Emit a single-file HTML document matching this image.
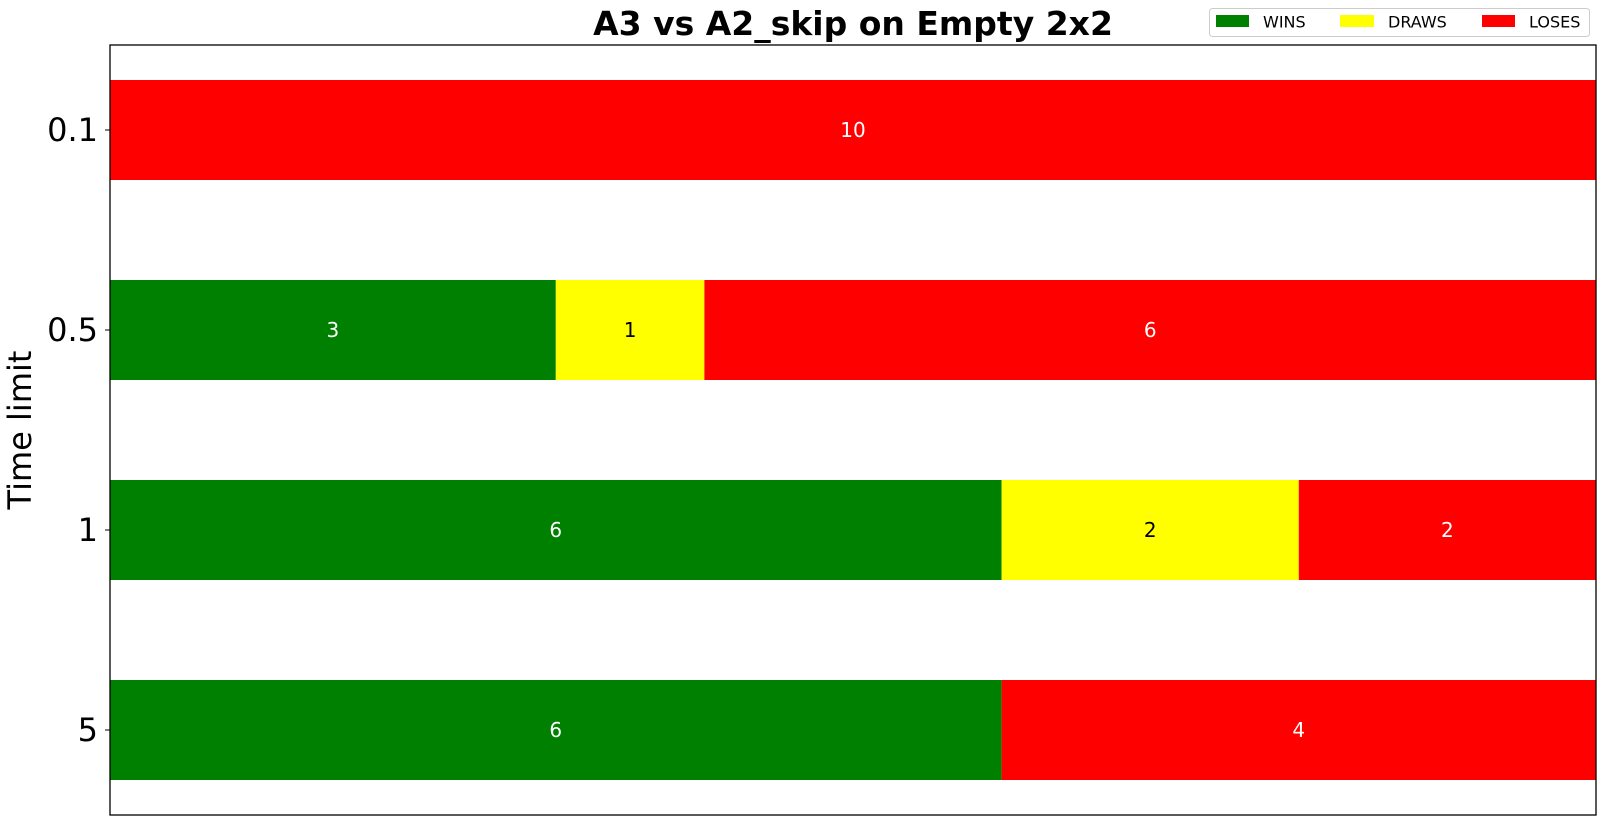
<!DOCTYPE html>
<html><head><meta charset="utf-8"><style>
body{margin:0;background:#fff;}
svg text{font-family:"DejaVu Sans","Liberation Sans",sans-serif;}
</style></head><body>
<svg id="chart" width="1601" height="819" xmlns="http://www.w3.org/2000/svg">
<text x="853" y="35" text-anchor="middle" font-size="33" font-weight="bold">A3 vs A2_skip on Empty 2x2</text>
<text transform="translate(31,430) rotate(-90)" text-anchor="middle" font-size="32">Time limit</text>
<g id="bars"></g>
<rect x="110" y="45" width="1486" height="770" fill="none" stroke="#000" stroke-width="1.3"/>
<g id="ticks"></g>
<g>
<rect x="1209.5" y="8.5" width="380" height="28" rx="3" fill="#fff" stroke="#ccc"/>
<rect x="1216" y="15" width="33" height="12" fill="#008000"/>
<text x="1263" y="27.5" font-size="16">WINS</text>
<rect x="1340" y="15" width="34" height="12" fill="#ffff00"/>
<text x="1388" y="27.5" font-size="16">DRAWS</text>
<rect x="1482" y="15" width="33" height="12" fill="#ff0000"/>
<text x="1529" y="27.5" font-size="16">LOSES</text>
</g>
</svg>
<script>
const categories = ["0.1","0.5","1","5"];
const wins = [0,3,6,6];
const draws = [0,1,2,0];
const loses = [10,6,2,4];
const xMax = 10;
const NS="http://www.w3.org/2000/svg";
const x0=110,x1=1596;
function xs(v){return x0+(v/xMax)*(x1-x0);}
function yc(i){return 130+i*200;}
const bh=100;
const bars=document.getElementById('bars');
const ticks=document.getElementById('ticks');
const series=[{vals:wins,color:"#008000",txt:"#fff",n:"wins"},{vals:draws,color:"#ffff00",txt:"#000",n:"draws"},{vals:loses,color:"#ff0000",txt:"#fff",n:"loses"}];
categories.forEach((c,i)=>{
  let acc=0;
  series.forEach(s=>{
    const v=s.vals[i];
    if(v>0){
      const r=document.createElementNS(NS,'rect');
      r.setAttribute('x',xs(acc));r.setAttribute('y',yc(i)-bh/2);
      r.setAttribute('width',xs(acc+v)-xs(acc));r.setAttribute('height',bh);
      r.setAttribute('fill',s.color);
      
      
      bars.appendChild(r);
      const t=document.createElementNS(NS,'text');
      t.setAttribute('x',(xs(acc)+xs(acc+v))/2);t.setAttribute('y',yc(i)+7);
      t.setAttribute('text-anchor','middle');t.setAttribute('font-size','20');t.setAttribute('fill',s.txt);
      t.textContent=v;
      
      
      bars.appendChild(t);
    }
    acc+=v;
  });
  const l=document.createElementNS(NS,'line');
  l.setAttribute('x1',x0-5);l.setAttribute('x2',x0);l.setAttribute('y1',yc(i));l.setAttribute('y2',yc(i));l.setAttribute('stroke','#000');
  
  
  ticks.appendChild(l);
  const t=document.createElementNS(NS,'text');
  t.setAttribute('x',x0-12);t.setAttribute('y',yc(i)+11);t.setAttribute('text-anchor','end');t.setAttribute('font-size','32');
  t.textContent=c;
  
  
  ticks.appendChild(t);
});
</script>
</body></html>
